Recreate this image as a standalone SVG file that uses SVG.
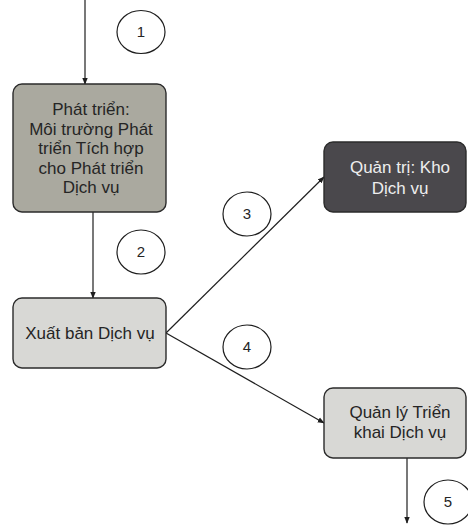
<svg xmlns="http://www.w3.org/2000/svg" width="468" height="525" viewBox="0 0 468 525">
  <style>
    .box { stroke: #2b2b2b; stroke-width: 1.4; }
    .light { fill: #d8d8d5; }
    .olive { fill: #aaa99f; }
    .dark { fill: #4a484c; }
    .lbl { font-family: "Liberation Sans", Arial, sans-serif; font-size: 17px; text-anchor: middle; fill: #252525; }
    .num { font-family: "Liberation Sans", Arial, sans-serif; font-size: 15px; text-anchor: middle; fill: #252525; }
    .lbl-inv { fill: #eeeeee; }
    .edge { stroke: #1e1e1e; stroke-width: 1.2; fill: none; marker-end: url(#arrow); }
    .step { fill: #fff; stroke: #1e1e1e; stroke-width: 1.2; }
  </style>
  <defs>
    <marker id="arrow" viewBox="0 0 10 10" refX="9" refY="5" markerWidth="7" markerHeight="7" orient="auto" markerUnits="userSpaceOnUse">
      <path d="M0,1 L10,5 L0,9 z" fill="#1e1e1e"/>
    </marker>
  </defs>
  <rect width="468" height="525" fill="#fff"/>

  <g id="connectors">
    <line class="edge" x1="85" y1="0" x2="85" y2="84"/>
    <line class="edge" x1="93" y1="212" x2="93" y2="298"/>
    <line class="edge" x1="166" y1="333" x2="324" y2="177"/>
    <line class="edge" x1="166" y1="333" x2="324" y2="423"/>
    <line class="edge" x1="407" y1="458" x2="407" y2="523"/>
  </g>

  <g id="steps">
    <g id="step1"><ellipse class="step" cx="141" cy="32" rx="24" ry="21.5"/><text class="num" x="141" y="37">1</text></g>
    <g id="step2"><ellipse class="step" cx="141" cy="252" rx="24" ry="22"/><text class="num" x="141" y="257">2</text></g>
    <g id="step3"><ellipse class="step" cx="247" cy="214" rx="24" ry="22"/><text class="num" x="247" y="219">3</text></g>
    <g id="step4"><ellipse class="step" cx="247" cy="347" rx="24" ry="22"/><text class="num" x="247" y="352">4</text></g>
    <g id="step5"><ellipse class="step" cx="448" cy="502" rx="24" ry="22"/><text class="num" x="448" y="507">5</text></g>
  </g>

  <g id="develop">
    <rect class="box olive" x="13" y="84" width="153" height="128" rx="9"/>
    <text class="lbl" x="91" y="115">Phát triển:</text>
    <text class="lbl" x="91" y="135">Môi trường Phát</text>
    <text class="lbl" x="91" y="154">triển Tích hợp</text>
    <text class="lbl" x="91" y="174">cho Phát triển</text>
    <text class="lbl" x="91" y="193">Dịch vụ</text>
  </g>

  <g id="publish">
    <rect class="box light" x="13" y="298" width="153" height="70" rx="9"/>
    <text class="lbl" x="90" y="339">Xuất bản Dịch vụ</text>
  </g>

  <g id="repository">
    <rect class="box dark" x="324" y="142" width="142" height="70" rx="9"/>
    <text class="lbl lbl-inv" x="400" y="173">Quản trị: Kho</text>
    <text class="lbl lbl-inv" x="400" y="194">Dịch vụ</text>
  </g>

  <g id="deploy">
    <rect class="box light" x="324" y="388" width="142" height="70" rx="9"/>
    <text class="lbl" x="400" y="418">Quản lý Triển</text>
    <text class="lbl" x="400" y="438">khai Dịch vụ</text>
  </g>
</svg>
